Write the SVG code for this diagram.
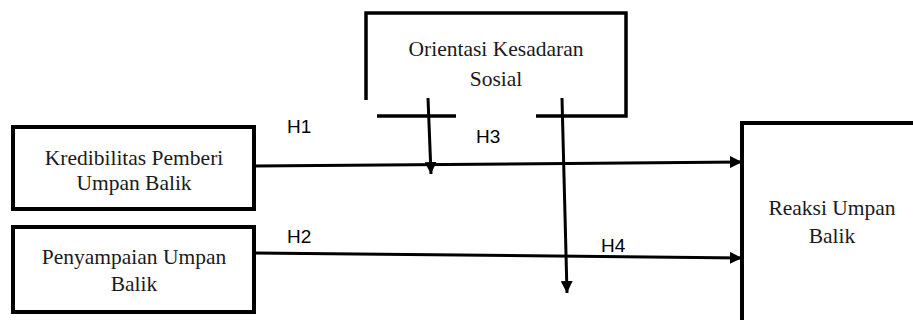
<svg xmlns="http://www.w3.org/2000/svg" width="913" height="320" viewBox="0 0 913 320">
<defs>
<style>
.box{fill:#fff;stroke:#000;stroke-width:4}
.obox{fill:none;stroke:#000;stroke-width:3.5}
.lbl{font-family:"Liberation Serif","Times New Roman",serif;font-size:21.5px;fill:#1a1a1a;text-anchor:middle}
.h{font-family:"Liberation Sans",Arial,sans-serif;font-size:19px;fill:#000}
.conn{fill:none;stroke:#000;stroke-width:3}
</style>
<marker id="ah" viewBox="0 0 10 10" refX="10" refY="5" markerWidth="4" markerHeight="4" orient="auto" markerUnits="strokeWidth">
<path d="M0,0 L10,5 L0,10 z" fill="#000"/>
</marker>
</defs>
<rect width="913" height="320" fill="#fff"/>
<g id="node-orientasi">
<path class="obox" d="M366,100 V13 H626 V116 H536"/>
<line class="obox" x1="377" y1="116" x2="456" y2="116"/>
<text class="lbl" x="496" y="56">Orientasi Kesadaran</text>
<text class="lbl" x="496" y="86">Sosial</text>
</g>
<g id="node-kredibilitas">
<rect class="box" x="13" y="127" width="241" height="82"/>
<text class="lbl" x="134" y="165">Kredibilitas Pemberi</text>
<text class="lbl" x="134" y="190">Umpan Balik</text>
</g>
<g id="node-penyampaian">
<rect class="box" x="13" y="227" width="241" height="85"/>
<text class="lbl" x="134" y="264">Penyampaian Umpan</text>
<text class="lbl" x="134" y="291">Balik</text>
</g>
<g id="node-reaksi">
<rect class="box" x="742" y="123" width="190" height="220"/>
<text class="lbl" x="832" y="215">Reaksi Umpan</text>
<text class="lbl" x="832" y="243">Balik</text>
</g>
<g id="connectors">
<line class="conn" x1="254" y1="166" x2="742" y2="162" marker-end="url(#ah)"/>
<line class="conn" x1="254" y1="253" x2="742" y2="258" marker-end="url(#ah)"/>
<line class="conn" x1="428" y1="98" x2="431" y2="174" marker-end="url(#ah)"/>
<line class="conn" x1="562" y1="98" x2="567" y2="293" marker-end="url(#ah)"/>
</g>
<g id="labels">
<text class="h" x="287" y="133">H1</text>
<text class="h" x="287" y="243">H2</text>
<text class="h" x="476" y="143">H3</text>
<text class="h" x="601" y="252">H4</text>
</g>
</svg>
